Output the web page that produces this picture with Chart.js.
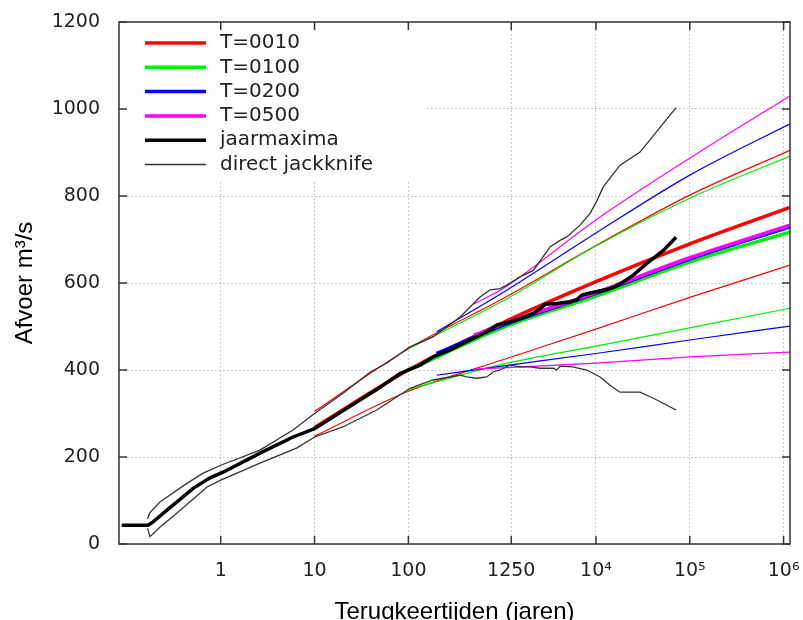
<!DOCTYPE html>
<html>
<head>
<meta charset="utf-8">
<script src="https://cdn.jsdelivr.net/npm/chart.js@4/dist/chart.umd.min.js"></script>
<style>
  html, body { margin: 0; padding: 0; background: #fff; }
</style>
</head>
<body>
<canvas id="afvoerChart" width="803" height="620"></canvas>
<script>
// --- assen ---
const X_MIN = 0.0823;
const X_MAX = 1.17e6;
const X_TICKS = [1, 10, 100, 1250, 1e4, 1e5, 1e6];
const X_TICK_LABELS = ['1', '10', '100', '1250', '10⁴', '10⁵', '10⁶'];
const Y_MIN = 0;
const Y_MAX = 1200;
const Y_STEP = 200;

// --- jaarmaxima (empirisch) ---
const JM_T = [0.088, 0.168, 0.19, 0.267, 0.342, 0.507, 0.769, 1.06, 2.62, 5.9, 10, 20, 46, 81.5, 133, 183, 279, 419, 685, 876, 1213, 1550, 2150, 2540, 2870, 3820, 5300, 6240, 7050, 8650, 13000, 15300, 19600, 25000, 34800, 52300, 71400];
const JM_Q = [43, 43, 51, 78, 97, 128, 152, 165, 209, 246, 265, 306, 355, 392, 411, 430, 446, 465, 488, 503, 511, 518, 530, 541, 551, 553, 557, 561, 572, 577, 585, 590, 603, 618, 645, 675, 705];

// --- direct jackknife (boven- en ondergrens) ---
const JU_T = [0.166, 0.176, 0.226, 0.44, 0.65, 1, 2.62, 5.9, 10, 20.3, 39, 59, 104, 183, 356, 455, 581, 743, 950, 1120, 1550, 2150, 3240, 4140, 4880, 6760, 8650, 10280, 11950, 18050, 29500, 71400];
const JU_Q = [58, 72, 97, 140, 163, 181, 216, 262, 300, 347, 395, 416, 453, 476, 522, 545, 568, 584, 587, 595, 614, 629, 683, 698, 706, 733, 760, 790, 821, 871, 901, 1003];
const JL_T = [0.166, 0.176, 0.226, 0.342, 0.715, 1, 2.62, 6.5, 10, 20, 46, 104, 183, 356, 419, 536, 685, 805, 950, 1213, 1550, 1980, 2540, 3510, 3820, 4140, 5650, 7980, 11060, 14100, 18050, 29500, 40900, 71400];
const JL_Q = [36, 17, 39, 71, 131, 147, 186, 221, 246, 269, 308, 358, 377, 388, 384, 381, 384, 396, 400, 411, 407, 407, 404, 404, 400, 409, 407, 400, 384, 365, 349, 349, 335, 308];

// --- fits per T (midden, boven, onder) ---
const T0010_T = [10, 100, 1000, 1e4, 1e5, X_MAX];
const T0010_MID = [268, 400, 508, 603, 690, 774];
const T0010_HI = [305, 449, 563, 686, 802, 905];
const T0010_LO = [248, 351, 423, 494, 567, 641];

const T0100_T = [100, 1000, 1e4, 1e5, X_MAX];
const T0100_MID = [400, 497, 570, 648, 717];
const T0100_HI = [449, 558, 685, 795, 892];
const T0100_LO = [355, 413, 455, 497, 542];

const T0200_T = [200, 1000, 1e4, 1e5, X_MAX];
const T0200_MID = [438, 502, 576, 655, 729];
const T0200_HI = [488, 577, 715, 848, 966];
const T0200_LO = [388, 409, 438, 469, 501];

const T0500_T = [500, 1000, 1e4, 1e5, X_MAX];
const T0500_MID = [480, 505, 578, 658, 733];
const T0500_HI = [552, 586, 745, 887, 1030];
const T0500_LO = [402, 405, 416, 430, 441];

const LEGEND_LABELS = ['T=0010', 'T=0100', 'T=0200', 'T=0500', 'jaarmaxima', 'direct jackknife'];
const LEGEND_COLORS = ['#ff0000', '#00ee00', '#0000ff', '#ff00ff', '#000000', '#333333'];
const LEGEND_WIDTHS = [3.5, 3.5, 3.5, 3.5, 3.5, 1.3];

const GRID_COLOR = '#b8b8b8';
const TICK_FONT = { family: 'DejaVu Sans', size: 19 };

function pts(ts, qs) {
    return ts.map((t, i) => ({ x: t, y: qs[i] }));
}

function fitLine(ts, qs, color, width) {
    return {
        data: pts(ts, qs),
        borderColor: color,
        borderWidth: width,
        pointRadius: 0,
        cubicInterpolationMode: 'monotone',
        fill: false
    };
}

function rawLine(ts, qs, color, width) {
    return {
        data: pts(ts, qs),
        borderColor: color,
        borderWidth: width,
        pointRadius: 0,
        tension: 0,
        fill: false
    };
}

// eerste dataset wordt bovenop getekend
const datasets = [
    rawLine(JM_T, JM_Q, '#000000', 3.5),
    rawLine(JU_T, JU_Q, '#333333', 1.3),
    rawLine(JL_T, JL_Q, '#333333', 1.3),
    fitLine(T0500_T, T0500_MID, '#ff00ff', 3.5),
    fitLine(T0200_T, T0200_MID, '#0000ff', 3.5),
    fitLine(T0100_T, T0100_MID, '#00ee00', 3.5),
    fitLine(T0010_T, T0010_MID, '#ff0000', 3.5),
    fitLine(T0500_T, T0500_HI, '#ff00ff', 1.2),
    fitLine(T0500_T, T0500_LO, '#ff00ff', 1.2),
    fitLine(T0200_T, T0200_HI, '#0000ff', 1.2),
    fitLine(T0200_T, T0200_LO, '#0000ff', 1.2),
    fitLine(T0100_T, T0100_HI, '#00ee00', 1.2),
    fitLine(T0100_T, T0100_LO, '#00ee00', 1.2),
    fitLine(T0010_T, T0010_HI, '#ff0000', 1.2),
    fitLine(T0010_T, T0010_LO, '#ff0000', 1.2)
];

// kader, naar binnen gerichte ticks en legenda zoals gnuplot
const gnuplotFrame = {
    id: 'gnuplotFrame',
    beforeDatasetsDraw(chart) {
        const { ctx, chartArea: a } = chart;
        ctx.save();
        ctx.fillStyle = '#fff';
        ctx.fillRect(a.left, a.top, 308, 160);
        ctx.font = '20px "DejaVu Sans"';
        ctx.textBaseline = 'middle';
        ctx.fillStyle = '#222';
        LEGEND_LABELS.forEach((label, i) => {
            const y = a.top + 21 + i * 24.3;
            ctx.beginPath();
            ctx.strokeStyle = LEGEND_COLORS[i];
            ctx.lineWidth = LEGEND_WIDTHS[i];
            ctx.moveTo(a.left + 26, y);
            ctx.lineTo(a.left + 87, y);
            ctx.stroke();
            ctx.fillText(label, a.left + 101, y);
        });
        ctx.restore();
    },
    afterDraw(chart) {
        const { ctx, chartArea: a, scales } = chart;
        ctx.save();
        ctx.strokeStyle = '#333';
        ctx.lineWidth = 1.5;
        ctx.strokeRect(a.left, a.top, a.right - a.left, a.bottom - a.top);
        ctx.beginPath();
        scales.x.ticks.forEach(t => {
            const px = scales.x.getPixelForValue(t.value);
            ctx.moveTo(px, a.bottom); ctx.lineTo(px, a.bottom - 8);
            ctx.moveTo(px, a.top); ctx.lineTo(px, a.top + 8);
        });
        scales.y.ticks.forEach(t => {
            const py = scales.y.getPixelForValue(t.value);
            ctx.moveTo(a.left, py); ctx.lineTo(a.left + 8, py);
            ctx.moveTo(a.right, py); ctx.lineTo(a.right - 8, py);
        });
        ctx.stroke();
        ctx.restore();
    }
};

function noPad(scale) {
    scale.paddingLeft = 0;
    scale.paddingRight = 0;
    scale.paddingTop = 0;
    scale.paddingBottom = 0;
}

const chart = new Chart(document.getElementById('afvoerChart'), {
    type: 'line',
    data: { datasets },
    plugins: [gnuplotFrame],
    options: {
        responsive: false,
        animation: false,
        layout: { padding: { left: 0, right: 13, top: 22, bottom: 0 } },
        plugins: { legend: { display: false }, tooltip: { enabled: false } },
        scales: {
            x: {
                type: 'logarithmic',
                min: X_MIN,
                max: X_MAX,
                afterBuildTicks: scale => { scale.ticks = X_TICKS.map(v => ({ value: v })); },
                afterFit: scale => { scale.height = 76; noPad(scale); },
                ticks: {
                    autoSkip: false,
                    maxRotation: 0,
                    padding: 16,
                    color: '#222',
                    font: TICK_FONT,
                    callback: (v, i) => X_TICK_LABELS[i]
                },
                grid: { color: GRID_COLOR, lineWidth: 1, drawTicks: false },
                border: { display: false, dash: [1.5, 2.5] },
                title: {
                    display: true,
                    text: 'Terugkeertijden (jaren)',
                    color: '#000',
                    font: { family: 'Liberation Sans', size: 24, lineHeight: 0.66 },
                    padding: { top: 0, bottom: 0 }
                }
            },
            y: {
                min: Y_MIN,
                max: Y_MAX,
                afterFit: scale => { scale.width = 119; noPad(scale); },
                ticks: {
                    stepSize: Y_STEP,
                    padding: 19,
                    color: '#222',
                    font: TICK_FONT,
                    callback: v => String(v)
                },
                grid: {
                    color: c => (c.tick.value === Y_MIN || c.tick.value === Y_MAX) ? 'rgba(0,0,0,0)' : GRID_COLOR,
                    lineWidth: 1,
                    drawTicks: false
                },
                border: { display: false, dash: [1.5, 2.5] },
                title: {
                    display: true,
                    text: 'Afvoer m³/s',
                    color: '#000',
                    font: { family: 'Liberation Sans', size: 24, lineHeight: 1 },
                    padding: { top: 13, bottom: 0 }
                }
            }
        }
    }
});
</script>
</body>
</html>
